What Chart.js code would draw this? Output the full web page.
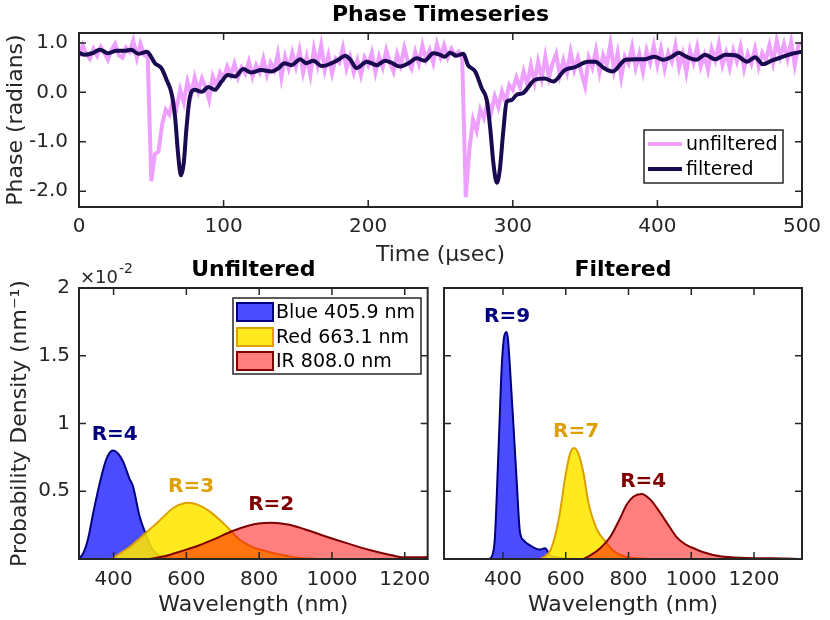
<!DOCTYPE html>
<html>
<head>
<meta charset="utf-8">
<script src="https://cdn.jsdelivr.net/npm/chart.js@4.4.1/dist/chart.umd.min.js"></script>
<style>
  html, body { margin: 0; padding: 0; background: #fff; }
  #wrap { position: relative; width: 830px; height: 620px; overflow: hidden; }
  canvas { position: absolute; }
</style>
</head>
<body>
<div id="wrap">
  <canvas id="phaseChart" width="830" height="270" style="left:0;top:0"></canvas>
  <canvas id="unfChart" width="440" height="365" style="left:0;top:255px"></canvas>
  <canvas id="filtChart" width="390" height="365" style="left:440px;top:255px"></canvas>
</div>
<script>
// ---- tick labels ----
const timeTicks = [0, 100, 200, 300, 400, 500];
const phaseTicks = [-2, -1, 0, 1];
const waveTicks = [400, 600, 800, 1000, 1200];
const densityTicks = [0.5, 1, 1.5, 2];

// ---- phase timeseries (radians) ----
// unfiltered, one sample every 2.5 usec from 0 to 500
const sampleStep = 2.5;
const unfPhase = [
  0.72, 0.95, 0.78, 0.68, 0.88, 0.74, 0.92, 0.80, 0.66, 0.86, 0.98, 0.75, 0.70, 0.90, 0.82, 1.05, 0.70, 0.98, 0.76, 0.72,
  -1.80, -1.25, -1.20, -0.65, -0.35, -0.45, -0.15, -0.32, 0.05, -0.20, 0.22, -0.05, 0.30, 0.02, 0.28, 0.10, -0.15, 0.32, 0.12, 0.40,
  0.28, 0.52, 0.35, 0.58, 0.30, 0.50, 0.38, 0.62, 0.32, 0.55, 0.40, 0.68, 0.35, 0.60, 0.45, 0.78, 0.30, 0.72, 0.48, 0.80,
  0.52, 0.85, 0.40, 0.72, 0.35, 0.88, 0.55, 0.95, 0.45, 0.75, 0.38, 0.68, 0.60, 0.90, 0.48, 0.72, 0.40, 0.65, 0.35, 0.70,
  0.55, 0.80, 0.40, 0.72, 0.50, 0.85, 0.60, 0.42, 0.78, 0.55, 0.90, 0.62, 0.48, 0.82, 0.58, 0.95, 0.66, 0.85, 0.60, 0.98,
  0.72, 0.95, 0.70, 0.88, 0.75, 0.82, 0.68, -2.12, -1.15, -0.55, -0.78, -0.35, -0.52, -0.20, -0.40, -0.08, -0.30, 0.02, -0.20, 0.15,
  0.05, 0.30, 0.10, 0.42, 0.15, 0.55, 0.20, 0.62, 0.28, 0.72, 0.30, 0.58, 0.78, 0.35, 0.65, 0.40, 0.82, 0.45, 0.70, 0.38,
  0.12, 0.70, 0.50, 0.85, 0.40, 0.75, 0.55, 0.98, 0.45, 0.80, 0.30, 0.72, 0.58, 0.92, 0.50, 0.78, 0.42, 0.85, 0.60, 0.95,
  0.55, 0.88, 0.48, 0.80, 0.62, 0.95, 0.50, 0.78, 0.40, 0.85, 0.60, 0.92, 0.52, 0.75, 0.45, 0.88, 0.65, 0.98, 0.55, 0.80,
  0.50, 0.85, 0.62, 0.92, 0.48, 0.78, 0.58, 0.88, 0.52, 0.80, 0.65, 0.95, 0.60, 1.05, 0.72, 0.98, 0.68, 1.02, 0.55, 0.95,
  1.00
];
const unfT = unfPhase.map((_, i) => i * sampleStep);

// filtered
const filtT = [0, 4, 9, 14.5, 20, 26, 32, 36, 41, 47, 49, 52.5, 57, 60.6, 64, 66.4, 68.7, 70.5, 72.4, 74.4,
  76.7, 80, 85, 89.4, 94, 98.6, 103, 108, 113.6, 119, 126, 133, 138, 142, 147, 153, 157, 162, 168, 174.8,
  179.4, 184, 187.4, 192, 199, 206, 211.6, 216, 222, 228, 233.5, 239, 245, 249.7, 253, 256.6, 261, 265.8, 269, 274,
  278.5, 282, 284.3, 286.6, 289, 291, 293.5, 295.8, 299, 302.7, 307, 310.6, 315, 322, 328, 336, 343, 352, 357, 363,
  369, 378, 385, 391.4, 398, 404, 410, 414.6, 420, 427, 433, 440, 447, 455, 462, 467.5, 473, 479, 487, 493, 500];
const filtPhase = [0.80, 0.76, 0.79, 0.86, 0.79, 0.84, 0.84, 0.86, 0.78, 0.82, 0.76, 0.59, 0.49, 0.25, -0.02, -0.49, -1.30, -1.68, -1.44, -0.70,
  -0.09, 0.05, 0.01, 0.11, 0.05, 0.22, 0.35, 0.32, 0.47, 0.40, 0.45, 0.42, 0.49, 0.59, 0.55, 0.67, 0.59, 0.64, 0.53, 0.59,
  0.66, 0.74, 0.67, 0.49, 0.62, 0.55, 0.64, 0.60, 0.52, 0.59, 0.69, 0.64, 0.79, 0.76, 0.72, 0.80, 0.74, 0.78, 0.55, 0.42,
  0.08, -0.16, -0.70, -1.44, -1.83, -1.57, -0.76, -0.19, -0.16, -0.05, -0.02, 0.10, 0.25, 0.28, 0.22, 0.45, 0.51, 0.62, 0.62, 0.49,
  0.42, 0.66, 0.67, 0.67, 0.72, 0.66, 0.72, 0.80, 0.72, 0.66, 0.76, 0.67, 0.76, 0.74, 0.62, 0.71, 0.57, 0.64, 0.72, 0.78, 0.82];

// ---- probability density (x10^-2 per nm) ----
const unfBlueNm = [305, 318, 330, 344, 362, 380, 398, 412, 426, 444, 453, 471, 489, 507, 526, 550, 600];
const unfBlueP = [0.0, 0.05, 0.15, 0.34, 0.56, 0.735, 0.80, 0.78, 0.72, 0.59, 0.54, 0.32, 0.18, 0.07, 0.025, 0.008, 0.0];
const unfRedNm = [395, 417, 445, 471, 498, 525, 566, 607, 640, 662, 707, 743, 780, 816, 852, 900, 960];
const unfRedP = [0, 0.04, 0.09, 0.15, 0.215, 0.28, 0.38, 0.415, 0.39, 0.355, 0.25, 0.15, 0.09, 0.06, 0.035, 0.012, 0];
const unfIrNm = [498, 540, 589, 634, 680, 725, 770, 798, 835, 879, 925, 979, 1043, 1106, 1161, 1197, 1233, 1263];
const unfIrP = [0, 0.02, 0.06, 0.10, 0.15, 0.205, 0.245, 0.262, 0.268, 0.255, 0.22, 0.17, 0.115, 0.065, 0.03, 0.012, 0.012, 0.015];

const filtBlueNm = [355, 362, 374, 385, 396, 403, 411, 416, 422, 433, 444, 454, 465, 486, 507, 518, 534, 550, 582, 620];
const filtBlueP = [0, 0.01, 0.15, 0.76, 1.42, 1.63, 1.675, 1.62, 1.42, 1.0, 0.56, 0.20, 0.14, 0.10, 0.075, 0.07, 0.08, 0.03, 0.01, 0];
const filtRedNm = [518, 534, 550, 566, 582, 598, 614, 627, 640, 656, 672, 699, 726, 752, 784, 826, 870];
const filtRedP = [0, 0.02, 0.06, 0.17, 0.35, 0.60, 0.78, 0.82, 0.78, 0.64, 0.42, 0.22, 0.13, 0.06, 0.02, 0.005, 0];
const filtIrNm = [656, 677, 710, 741, 773, 794, 815, 842, 869, 900, 930, 954, 980, 1002, 1039, 1092, 1177, 1252, 1294, 1340];
const filtIrP = [0, 0.025, 0.08, 0.16, 0.30, 0.40, 0.46, 0.48, 0.44, 0.345, 0.24, 0.16, 0.11, 0.085, 0.05, 0.02, 0.008, 0.005, 0.003, 0];

const sourceNames = ['Blue 405.9 nm', 'Red 663.1 nm', 'IR 808.0 nm'];

// R labels and where they sit (nm, density)
const unfRText = ['R=4', 'R=3', 'R=2'];
const unfRNm = [403, 613, 833];
const unfRP = [0.92, 0.53, 0.40];
const filtRText = ['R=9', 'R=7', 'R=4'];
const filtRNm = [413, 633, 847];
const filtRP = [1.79, 0.94, 0.57];

// ---- styling ----
const FONT = 'DejaVu Sans';
const INK = '#262626';
const fills = ['rgba(0,0,255,0.7)', 'rgba(255,230,0,0.88)', 'rgba(255,0,0,0.5)'];
const edges = ['#000080', '#DDA000', '#800000'];
Chart.defaults.font.family = FONT;
Chart.defaults.color = INK;

const zip = (xs, ys) => xs.map((x, i) => ({ x: x, y: ys[i] }));
const setTicks = vals => scale => { scale.ticks = vals.map(v => ({ value: v })); };

// box frame with inward ticks on all four sides
const frame = {
  id: 'frame',
  afterDatasetsDraw(chart) {
    const { ctx, chartArea: a, scales: { x, y } } = chart;
    const len = 7;
    ctx.save();
    ctx.strokeStyle = INK;
    ctx.lineWidth = 1.5;
    ctx.beginPath();
    x.ticks.forEach(t => {
      const px = x.getPixelForValue(t.value);
      ctx.moveTo(px, a.bottom); ctx.lineTo(px, a.bottom - len);
      ctx.moveTo(px, a.top); ctx.lineTo(px, a.top + len);
    });
    y.ticks.forEach(t => {
      const py = y.getPixelForValue(t.value);
      ctx.moveTo(a.left, py); ctx.lineTo(a.left + len, py);
      ctx.moveTo(a.right, py); ctx.lineTo(a.right - len, py);
    });
    ctx.stroke();
    ctx.lineWidth = 2;
    ctx.strokeRect(a.left, a.top, a.width, a.height);
    ctx.restore();
  }
};

// boxed legend drawn at a fixed spot
const boxLegend = {
  id: 'boxLegend',
  afterDraw(chart, args, o) {
    if (!o || !o.rows) return;
    const ctx = chart.ctx;
    ctx.save();
    ctx.fillStyle = '#fff';
    ctx.fillRect(o.left, o.top, o.width, o.height);
    ctx.strokeStyle = INK;
    ctx.lineWidth = 1.5;
    ctx.strokeRect(o.left, o.top, o.width, o.height);
    ctx.font = '19px "' + FONT + '"';
    ctx.textBaseline = 'middle';
    ctx.textAlign = 'left';
    chart.data.datasets.forEach((ds, i) => {
      const cy = o.rows[i];
      if (o.kind === 'line') {
        ctx.strokeStyle = ds.borderColor;
        ctx.lineWidth = ds.borderWidth;
        ctx.beginPath();
        ctx.moveTo(o.left + 4, cy); ctx.lineTo(o.left + 38, cy);
        ctx.stroke();
        ctx.fillStyle = '#000';
        ctx.fillText(ds.label, o.left + 42, cy + 1);
      } else {
        ctx.fillStyle = ds.backgroundColor;
        ctx.fillRect(o.left + 4, cy - 9, 36, 18);
        ctx.strokeStyle = ds.borderColor;
        ctx.lineWidth = 2;
        ctx.strokeRect(o.left + 4, cy - 9, 36, 18);
        ctx.fillStyle = '#000';
        ctx.fillText(ds.label, o.left + 43, cy + 1);
      }
    });
    ctx.restore();
  }
};

// bold "R=" labels and the axis exponent note
const notes = {
  id: 'notes',
  afterDraw(chart, args, o) {
    if (!o || !o.text) return;
    const { ctx, chartArea: a, scales: { x, y } } = chart;
    ctx.save();
    ctx.font = 'bold 20px "' + FONT + '"';
    ctx.textAlign = 'center';
    ctx.textBaseline = 'middle';
    o.text.forEach((t, i) => {
      ctx.fillStyle = edges[i];
      ctx.fillText(t, x.getPixelForValue(o.nm[i]), y.getPixelForValue(o.p[i]));
    });
    if (o.exponent) {
      ctx.fillStyle = INK;
      ctx.textAlign = 'left';
      ctx.textBaseline = 'alphabetic';
      ctx.font = '18px "' + FONT + '"';
      ctx.fillText('\u00d710', a.left + 1, a.top - 5);
      const w = ctx.measureText('\u00d710').width;
      ctx.font = '14px "' + FONT + '"';
      ctx.fillText('-2', a.left + 2 + w, a.top - 15);
    }
    ctx.restore();
  }
};

const tickFont = { family: FONT, size: 20 };
const titleFont = { family: FONT, size: 22 };
const headFont = { family: FONT, size: 22, weight: 'bold' };

// ---- top: phase timeseries ----
new Chart(document.getElementById('phaseChart'), {
  type: 'line',
  data: {
    datasets: [
      { label: 'unfiltered', data: zip(unfT, unfPhase), borderColor: '#EEA0FF', borderWidth: 4,
        pointRadius: 0, tension: 0, order: 2 },
      { label: 'filtered', data: zip(filtT, filtPhase), borderColor: '#1A0A50', borderWidth: 4,
        pointRadius: 0, cubicInterpolationMode: 'monotone', order: 1 }
    ]
  },
  options: {
    responsive: false,
    animation: false,
    layout: { padding: { left: 0, right: 28, top: 0, bottom: 0 } },
    plugins: {
      legend: { display: false },
      tooltip: { enabled: false },
      title: { display: true, text: 'Phase Timeseries', font: headFont, color: '#000', fullSize: false,
        padding: { top: 2.5, bottom: 4.1 } },
      boxLegend: { kind: 'line', left: 644, top: 130, width: 139, height: 53, rows: [144, 169] }
    },
    scales: {
      x: {
        type: 'linear', min: 0, max: 500,
        afterBuildTicks: setTicks(timeTicks),
        afterFit: s => { s.height = 63; },
        grid: { display: false, drawTicks: false }, border: { display: false },
        ticks: { font: tickFont, color: INK, padding: 8, maxRotation: 0, autoSkip: false, callback: v => String(v) },
        title: { display: true, text: 'Time (\u03bcsec)', font: titleFont, color: INK, padding: { top: 0, bottom: 1.8 } }
      },
      y: {
        min: -2.32, max: 1.2,
        afterBuildTicks: setTicks(phaseTicks),
        afterFit: s => { s.width = 79; },
        grid: { display: false, drawTicks: false }, border: { display: false },
        ticks: { font: tickFont, color: INK, padding: 11, callback: v => v.toFixed(1) },
        title: { display: true, text: 'Phase (radians)', font: titleFont, color: INK, padding: { top: 2.8, bottom: 0 } }
      }
    }
  },
  plugins: [frame, boxLegend]
});

// ---- bottom panels: probability density ----
function densityChart(id, nmSets, pSets, opts) {
  return new Chart(document.getElementById(id), {
    type: 'line',
    data: {
      datasets: sourceNames.map((name, i) => ({
        label: name,
        data: zip(nmSets[i], pSets[i]),
        backgroundColor: fills[i],
        borderColor: edges[i],
        borderWidth: 2,
        fill: 'origin',
        pointRadius: 0,
        cubicInterpolationMode: 'monotone',
        order: 3 - i
      }))
    },
    options: {
      responsive: false,
      animation: false,
      layout: { padding: { left: 0, right: opts.padRight, top: 0, bottom: 0 } },
      plugins: {
        legend: { display: false },
        tooltip: { enabled: false },
        title: { display: true, text: opts.title, font: headFont, color: '#000', fullSize: false,
          padding: { top: 2.5, bottom: 4.1 } },
        boxLegend: opts.legend,
        notes: opts.notes
      },
      scales: {
        x: {
          type: 'linear', min: opts.xMin, max: opts.xMax,
          afterBuildTicks: setTicks(waveTicks),
          afterFit: s => { s.height = 61; },
          grid: { display: false, drawTicks: false }, border: { display: false },
          ticks: { font: tickFont, color: INK, padding: 9, maxRotation: 0, autoSkip: false, callback: v => String(v) },
          title: { display: true, text: 'Wavelength (nm)', font: titleFont, color: INK, padding: { top: 0, bottom: 1.8 } }
        },
        y: {
          min: 0, max: 2,
          afterBuildTicks: setTicks(densityTicks),
          afterFit: s => { s.width = opts.yWidth; },
          grid: { display: false, drawTicks: false }, border: { display: false },
          ticks: { display: opts.yLabels, font: tickFont, color: INK, padding: 9, callback: v => String(v) },
          title: { display: opts.yLabels, text: 'Probability Density (nm\u207b\u00b9)', font: titleFont, color: INK,
            padding: { top: 7.5, bottom: 0 } }
        }
      }
    },
    plugins: [frame, boxLegend, notes]
  });
}

densityChart('unfChart',
  [unfBlueNm, unfRedNm, unfIrNm], [unfBlueP, unfRedP, unfIrP],
  { title: 'Unfiltered', xMin: 305, xMax: 1263, padRight: 9, yWidth: 79, yLabels: true,
    legend: { kind: 'box', left: 233, top: 43, width: 188, height: 76, rows: [57, 82, 106] },
    notes: { text: unfRText, nm: unfRNm, p: unfRP, exponent: true } });

densityChart('filtChart',
  [filtBlueNm, filtRedNm, filtIrNm], [filtBlueP, filtRedP, filtIrP],
  { title: 'Filtered', xMin: 212, xMax: 1353, padRight: 28, yWidth: 4, yLabels: false,
    legend: null,
    notes: { text: filtRText, nm: filtRNm, p: filtRP, exponent: false } });
</script>
</body>
</html>
